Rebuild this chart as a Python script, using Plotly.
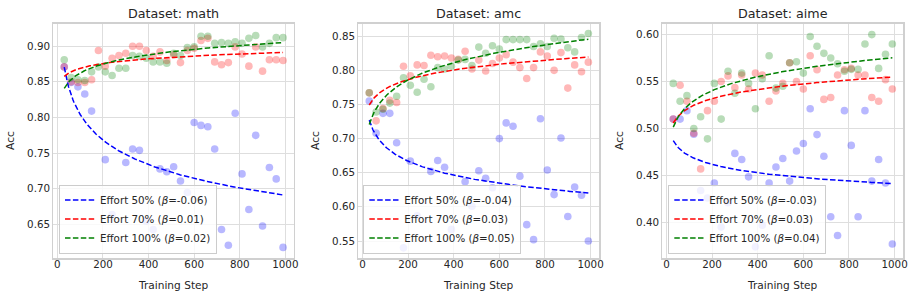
import numpy as np
import plotly.graph_objects as go

# ---------------- data ----------------
steps = [30, 60, 90, 120, 150, 180, 210, 240, 270, 300, 330, 360, 390, 420, 450, 480, 510,
         540, 570, 600, 630, 660, 690, 720, 750, 780, 810, 840, 870, 900, 930, 960, 990]

datasets = ["math", "amc", "aime"]
effort_names = ["Effort 50%", "Effort 70%", "Effort 100%"]
beta_text = {
    "math": ["-0.06", "0.01", "0.02"],
    "amc": ["-0.04", "0.03", "0.05"],
    "aime": ["-0.03", "0.03", "0.04"],
}

math_e50 = [0.871, 0.849, 0.843, 0.833, 0.809, None, 0.741, 0.664, None, 0.737, 0.756, 0.754, 0.655,
            0.643, 0.728, 0.724, 0.731, 0.711, 0.695, 0.793, 0.789, 0.787, 0.756, 0.643, 0.621, 0.806,
            0.721, 0.671, 0.775, 0.648, 0.730, 0.714, 0.618]
math_e70 = [0.871, 0.850, 0.849, 0.849, 0.853, 0.894, 0.872, 0.883, 0.887, 0.890, 0.900, 0.900, 0.894,
            0.886, 0.892, 0.880, 0.888, 0.877, 0.894, 0.897, 0.908, 0.911, 0.878, 0.874, 0.877, 0.899,
            0.889, 0.872, 0.899, 0.865, 0.881, 0.881, 0.880]
math_e100 = [0.881, 0.856, 0.853, 0.852, 0.864, 0.871, 0.864, 0.859, 0.869, 0.869, 0.887, 0.886, 0.883,
             0.878, 0.878, 0.876, 0.890, 0.887, 0.898, 0.899, 0.914, 0.914, 0.904, 0.905, 0.904, 0.906,
             0.904, 0.911, 0.915, 0.899, 0.904, 0.912, 0.912]

amc_e50 = [0.755, 0.708, 0.737, 0.737, 0.694, 0.540, 0.667, 0.587, None, 0.652, 0.668, 0.658, 0.567,
           None, 0.637, 0.601, 0.653, 0.642, 0.628, 0.700, 0.723, 0.718, 0.645, 0.574, 0.552, 0.729,
           0.654, 0.618, 0.701, 0.586, 0.629, 0.617, 0.550]
amc_e70 = [0.767, 0.726, 0.744, 0.756, 0.753, 0.806, 0.792, 0.808, 0.807, 0.822, 0.820, 0.821, 0.818,
           0.816, 0.828, 0.802, 0.815, 0.799, 0.810, 0.818, 0.823, 0.812, 0.804, 0.788, 0.804, 0.827,
           0.821, 0.800, 0.826, 0.774, 0.808, 0.798, 0.812]
amc_e100 = [0.767, 0.739, 0.743, 0.752, 0.762, 0.789, 0.778, 0.768, 0.787, 0.776, 0.804, 0.802, 0.806,
            0.815, 0.816, 0.807, 0.834, 0.825, 0.836, 0.831, 0.845, 0.845, 0.845, 0.845, 0.835, 0.839,
            0.835, 0.847, 0.846, 0.833, 0.827, 0.848, 0.854]

aime_e50 = [0.510, 0.510, 0.519, 0.494, 0.434, 0.426, 0.442, 0.395, 0.421, 0.4735, 0.467, 0.4485, 0.374,
            0.397, 0.442, 0.459, 0.468, 0.444, 0.476, 0.484, 0.521, 0.4935, 0.4705, 0.406, 0.386, 0.519,
            0.482, 0.406, 0.519, 0.444, 0.467, 0.442, 0.377]
aime_e70 = [0.510, 0.546, 0.529, 0.495, 0.457, 0.519, 0.529, 0.550, 0.556, 0.5435, 0.557, 0.542, 0.559,
            0.557, 0.529, 0.540, 0.548, 0.570, 0.550, 0.542, 0.5775, 0.5625, 0.531, 0.533, 0.557, 0.5625,
            0.564, 0.557, 0.557, 0.533, 0.529, 0.552, 0.542]
aime_e100 = [0.548, 0.529, 0.535, 0.500, 0.5125, 0.489, 0.548, 0.510, 0.561, 0.5375, 0.559, 0.548, 0.521,
             0.553, 0.5775, 0.543, 0.545, 0.570, 0.571, 0.559, 0.598, 0.5875, 0.580, 0.575, 0.569, 0.561,
             0.563, 0.563, 0.590, 0.600, 0.564, 0.579, 0.590]

series = {
    "math": [math_e50, math_e70, math_e100],
    "amc": [amc_e50, amc_e70, amc_e100],
    "aime": [aime_e50, aime_e70, aime_e100],
}

y_ticks = {
    "math": [0.65, 0.70, 0.75, 0.80, 0.85, 0.90],
    "amc": [0.55, 0.60, 0.65, 0.70, 0.75, 0.80, 0.85],
    "aime": [0.40, 0.45, 0.50, 0.55, 0.60],
}
x_ticks = [0, 200, 400, 600, 800, 1000]
x_title = "Training Step"
y_title = "Acc"

# ---------------- style ----------------
W, H = 916, 299
line_colors = ["#0000ff", "#ff0000", "#008000"]
dot_colors = ["rgba(0,0,255,0.28)", "rgba(255,0,0,0.28)", "rgba(0,128,0,0.28)"]
text_color = "#262626"
font_family = "DejaVu Sans"

x_px = [(53.3, 294.0), (358.3, 599.3), (662.3, 903.3)]
y_top_px, y_bot_px = 23.5, 258.3
legend_px = [(59.0, 253.5), (363.3, 253.5), (668.3, 253.5)]  # left, bottom

fig = go.Figure()

for i, ds in enumerate(datasets):
    ax = "" if i == 0 else str(i + 1)
    leg = "legend" if i == 0 else f"legend{i + 1}"
    for k in range(3):
        fig.add_trace(go.Scatter(
            x=steps, y=series[ds][k], mode="markers",
            marker=dict(size=7.6, color=dot_colors[k], line=dict(width=0)),
            xaxis="x" + ax, yaxis="y" + ax, showlegend=False, hoverinfo="skip",
        ))
    # power-law fit y = a * x^beta, estimated from the points
    for k in range(3):
        xs = np.array([s for s, v in zip(steps, series[ds][k]) if v is not None], dtype=float)
        ys = np.array([v for v in series[ds][k] if v is not None], dtype=float)
        b, la = np.polyfit(np.log(xs), np.log(ys), 1)
        xc = np.linspace(xs.min(), xs.max(), 300)
        yc = np.exp(la) * xc ** b
        fig.add_trace(go.Scatter(
            x=xc, y=yc, mode="lines",
            line=dict(color=line_colors[k], width=1.5, dash="5.5px,2.4px"),
            name=f"{effort_names[k]} (<i>β</i>={beta_text[ds][k]})",
            xaxis="x" + ax, yaxis="y" + ax, legend=leg,
        ))

layout = dict(
    width=W, height=H, autosize=False,
    margin=dict(l=0, r=0, t=0, b=0),
    paper_bgcolor="white", plot_bgcolor="white",
    font=dict(family=font_family, size=10.3, color=text_color),
    showlegend=True,
    annotations=[],
)

y_ranges = {"math": [0.6027, 0.9318], "amc": [0.5247, 0.8686], "aime": [0.3618, 0.6118]}

for i, ds in enumerate(datasets):
    ax = "" if i == 0 else str(i + 1)
    l, r = x_px[i]
    layout["xaxis" + ax] = dict(
        domain=[l / W, r / W], anchor="y" + ax, range=[-18, 1038],
        tickvals=x_ticks, ticks="", showgrid=True, gridcolor="#dedede", gridwidth=1,
        zeroline=False, showline=True, mirror=True, linecolor="#d0d0d0", linewidth=1.2,
        tickfont=dict(size=10.3, color=text_color, family=font_family), automargin=False,
        ticklabelstandoff=-4,
    )
    layout["yaxis" + ax] = dict(
        domain=[1 - y_bot_px / H, 1 - y_top_px / H], anchor="x" + ax, range=y_ranges[ds],
        tickvals=y_ticks[ds], tickformat=".2f", ticks="", showgrid=True, gridcolor="#dedede",
        gridwidth=1, zeroline=False, showline=True, mirror=True, linecolor="#d0d0d0", linewidth=1.2,
        tickfont=dict(size=10.3, color=text_color, family=font_family), automargin=False,
    )
    lx, lb = legend_px[i]
    layout["legend" if i == 0 else f"legend{i + 1}"] = dict(
        x=lx / W, y=1 - lb / H, xanchor="left", yanchor="bottom",
        bgcolor="rgba(255,255,255,0.8)", bordercolor="#cccccc", borderwidth=1,
        font=dict(size=10.3, color=text_color, family=font_family),
        tracegroupgap=0, itemwidth=30,
    )
    # subplot title
    layout["annotations"].append(dict(
        text=f"Dataset: {ds}", x=(l + r) / 2 / W, y=1 - 13.3 / H, xref="paper", yref="paper",
        xanchor="center", yanchor="middle", showarrow=False,
        font=dict(size=12.7, color=text_color, family=font_family),
    ))
    # x axis title
    layout["annotations"].append(dict(
        text=x_title, x=(l + r) / 2 / W, y=1 - 285 / H, xref="paper", yref="paper",
        xanchor="center", yanchor="middle", showarrow=False,
        font=dict(size=10.6, color=text_color, family=font_family),
    ))
    # y axis title
    layout["annotations"].append(dict(
        text=y_title, x=(l - 43.3) / W, y=1 - (y_top_px + y_bot_px) / 2 / H, xref="paper", yref="paper",
        xanchor="center", yanchor="middle", showarrow=False, textangle=-90,
        font=dict(size=10.6, color=text_color, family=font_family),
    ))

fig.update_layout(**layout)
fig.write_html(
    "out.html",
    config={"displayModeBar": False, "staticPlot": True},
    post_script="document.body.style.margin='0';document.body.style.padding='0';document.body.style.overflow='hidden';",
)
